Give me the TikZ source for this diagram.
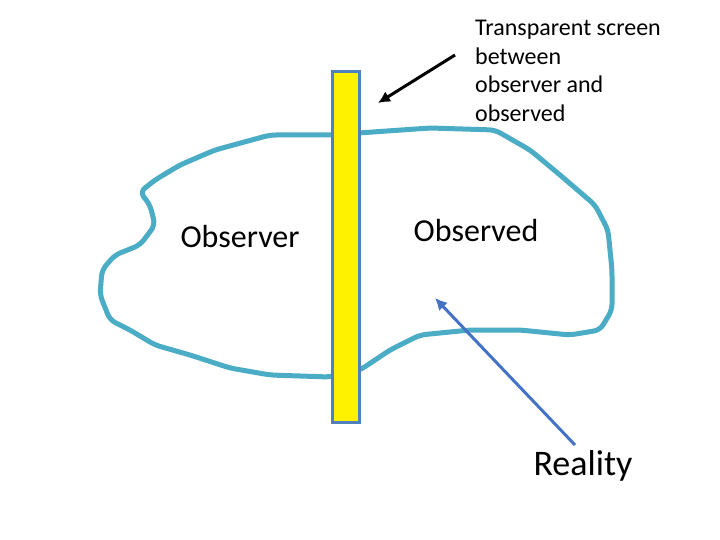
\documentclass[tikz,border=0pt]{standalone}
\usepackage{fontspec}
\setmainfont{Carlito}
\usetikzlibrary{arrows.meta}
\begin{document}
\begin{tikzpicture}[x=1pt,y=-1pt,
  lbl/.style={inner sep=0pt,font=\fontsize{32}{36}\selectfont},
  arr/.style={line width=3pt,-{Latex[length=12pt,width=12pt]}}]
\useasboundingbox (0,0) rectangle (720,540);
\fill[white] (0,0) rectangle (720,540);
\draw[line width=5pt,color={rgb,255:red,75;green,172;blue,198},line join=round,rounded corners=6pt]
 (140,192)--(150,205)--(155,225)--(140,245)--(115,255)--(102,270)--(100,295)--(110,320)--(130,330)--(155,345)--(190,355)--(230,368)--(270,375)--(330,377)--(360,370)--(390,350)--(420,335)--(470,330)--(520,330)--(570,335)--(600,330)--(612,310)--(612,270)--(608,230)--(595,205)--(560,175)--(530,150)--(495,130)--(430,128)--(330,135)--(270,135)--(215,150)--(180,165)--(155,180)--cycle;
\node[draw={rgb,255:red,79;green,129;blue,189},line width=3pt,fill=yellow,minimum width=27pt,minimum height=350pt,inner sep=0pt] (screen) at (345.5,247) {};
\node[lbl] (obs) at (240,237) {Observer};
\node[lbl] (obd) at (476,231) {Observed};
\node[lbl,font=\fontsize{36}{40}\selectfont] (real) at (583,466) {Reality};
\node[inner sep=0pt,anchor=north west,align=left,font=\fontsize{24}{28.7}\selectfont] (tr) at (475,20) {Transparent screen\\between\\observer and\\observed};
\coordinate (a1) at (455,55); \coordinate (a2) at (378,103);
\draw[arr] (a1) -- (a2);
\coordinate (b1) at (575,445); \coordinate (b2) at (435,298);
\draw[arr,color={rgb,255:red,68;green,114;blue,196}] (b1) -- (b2);
\end{tikzpicture}
\end{document}
